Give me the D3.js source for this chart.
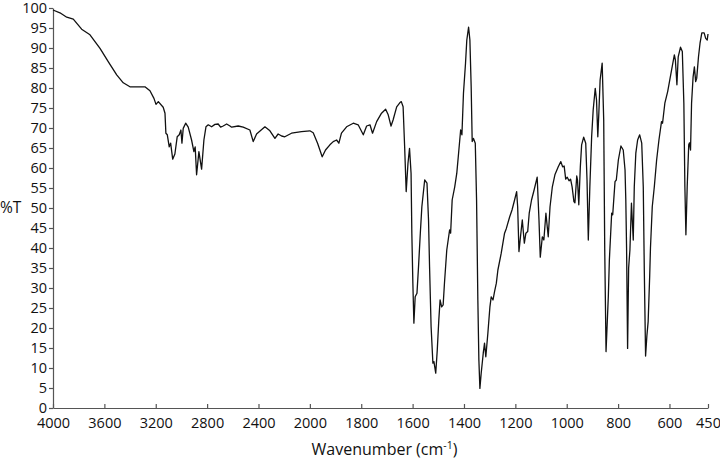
<!DOCTYPE html>
<html>
<head>
<meta charset="utf-8">
<script src="https://cdn.jsdelivr.net/npm/d3@7"></script>
<style>
  body { margin: 0; background: #fff; }
  svg text { font-family: "Open Sans", "Noto Sans", sans-serif; fill: #111; }
</style>
</head>
<body>
<div id="chart"></div>
<script>
const wavenumber = [
  4000, 3946, 3893, 3842, 3777, 3712, 3634, 3570, 3504, 3453, 3401, 3349, 3284, 3245, 3214, 3198,
  3180, 3142, 3128, 3121, 3110, 3095, 3084, 3068, 3051, 3033, 3017, 3004, 2996, 2986, 2967, 2947,
  2921, 2903, 2893, 2882, 2864, 2843, 2825, 2809, 2791, 2765, 2739, 2714, 2695, 2675, 2648, 2622,
  2609, 2558, 2519, 2467, 2441, 2415, 2350, 2311, 2272, 2247, 2220, 2195, 2143, 2065, 2000, 1987,
  1970, 1952, 1939, 1922, 1909, 1896, 1887, 1877, 1857, 1831, 1812, 1792, 1779, 1766, 1756, 1740,
  1721, 1705, 1695, 1684, 1676, 1662, 1650, 1644, 1637, 1631, 1625, 1618, 1612, 1606, 1603, 1599,
  1595, 1590, 1583, 1577, 1570, 1564, 1553, 1544, 1538, 1534, 1528, 1521, 1517, 1510, 1504, 1498,
  1493, 1487, 1481, 1476, 1467, 1456, 1452, 1446, 1436, 1428, 1421, 1413, 1408, 1402, 1394, 1389,
  1382, 1377, 1372, 1368, 1363, 1356, 1351, 1346, 1342, 1338, 1333, 1325, 1320, 1315, 1307, 1299,
  1294, 1287, 1281, 1274, 1268, 1255, 1242, 1235, 1222, 1213, 1203, 1195, 1191, 1186, 1180, 1173,
  1165, 1159, 1152, 1146, 1137, 1127, 1115, 1108, 1103, 1095, 1089, 1081, 1072, 1065, 1056, 1046,
  1033, 1023, 1016, 1010, 1004, 998, 991, 985, 979, 972, 968, 961, 958, 953, 947, 942,
  934, 926, 921, 916, 910, 903, 897, 889, 884, 879, 875, 870, 862, 856, 852, 847,
  838, 834, 825, 821, 812, 807, 799, 789, 780, 773, 770, 767, 763, 759, 754, 748,
  741, 737, 731, 724, 716, 708, 702, 698, 693, 688, 683, 677, 674, 667, 659, 650,
  641, 631, 627, 618, 607, 594, 581, 577, 571, 566, 557, 550, 544, 540, 536, 531,
  525, 522, 518, 514, 508, 503, 498, 494, 487, 481, 474, 465, 459, 453, 450
];

// transmittance (%T) at each wavenumber above
const transmittance = [
  99.5, 98.8, 97.7, 97.2, 94.7, 93.3, 89.9, 86.6, 83.3, 81.3, 80.3, 80.3, 80.3, 79.3, 77.4, 75.9,
  76.6, 75.2, 73.7, 68.7, 68.3, 65.3, 66.2, 62.2, 63.5, 67.8, 68.3, 69.5, 66.2, 69.9, 71.2, 70.2,
  67.0, 64.1, 65.3, 58.3, 64.1, 59.7, 67.0, 70.3, 70.8, 70.3, 70.9, 71.0, 70.2, 70.5, 71.0, 70.5,
  70.2, 70.5, 70.2, 69.5, 66.6, 68.5, 70.3, 69.3, 67.4, 68.5, 68.0, 67.8, 68.7, 69.1, 69.3, 68.8,
  66.2, 62.8, 64.5, 65.8, 66.6, 67.0, 66.2, 68.7, 70.3, 71.2, 70.8, 68.3, 70.5, 70.8, 68.7, 71.6,
  73.7, 74.7, 73.3, 70.5, 72.0, 75.3, 76.3, 76.6, 75.3, 65.3, 54.1, 61.2, 64.9, 58.7, 43.7, 31.2,
  21.2, 27.8, 28.7, 35.3, 43.7, 50.3, 57.0, 56.2, 47.0, 35.3, 20.3, 11.2, 11.6, 8.7, 14.5, 22.0,
  27.0, 25.3, 25.8, 31.2, 39.5, 44.5, 43.7, 52.0, 55.3, 58.7, 63.7, 69.5, 68.3, 78.7, 86.2, 92.0,
  95.2, 92.0, 80.3, 66.6, 67.4, 66.2, 52.0, 27.0, 12.0, 4.9, 8.7, 13.7, 16.2, 12.8, 18.7, 25.3,
  27.8, 27.0, 29.1, 31.2, 34.5, 38.7, 43.7, 44.9, 47.8, 49.5, 52.0, 54.1, 50.3, 39.1, 42.8, 47.0,
  41.2, 43.7, 44.1, 48.7, 52.0, 54.5, 57.7, 47.0, 37.7, 42.8, 42.0, 48.7, 42.8, 50.3, 55.3, 58.3,
  60.3, 61.6, 60.3, 60.5, 57.2, 57.7, 56.8, 57.2, 55.3, 51.6, 51.3, 58.0, 57.0, 50.8, 60.3, 65.8,
  67.7, 66.2, 57.0, 42.0, 55.3, 67.8, 74.5, 79.9, 77.0, 67.8, 73.7, 82.0, 86.2, 72.0, 39.5, 14.1,
  28.0, 37.0, 48.7, 48.3, 56.6, 57.0, 62.0, 65.5, 64.5, 59.5, 52.0, 40.0, 14.9, 35.0, 39.5, 51.2,
  42.0, 55.3, 63.7, 67.0, 68.3, 66.2, 55.3, 34.5, 13.0, 18.0, 21.6, 33.0, 40.0, 50.3, 55.3, 62.0,
  67.0, 71.6, 71.2, 76.2, 79.1, 83.7, 88.3, 87.0, 80.8, 87.8, 90.2, 89.1, 76.2, 55.3, 43.3, 55.3,
  65.8, 66.3, 64.5, 76.2, 82.8, 85.3, 81.6, 82.4, 87.8, 91.2, 93.8, 93.8, 92.4, 92.0, 93.5
];

const xTicks = [4000, 3600, 3200, 2800, 2400, 2000, 1800, 1600, 1400, 1200, 1000, 800, 600, 450];
const yTicks = d3.range(0, 101, 5);

const width = 720, height = 462;
const plot = {left: 53, right: 708, top: 8, bottom: 408};

const svg = d3.select("#chart").append("svg")
    .attr("width", width)
    .attr("height", height);

// the instrument compresses 4000-2000 to half scale, so the x scale has a break at 2000
const x = d3.scaleLinear()
    .domain([4000, 2000, 450])
    .range([plot.left, plot.left + (plot.right - plot.left) * 2000 / 5100, plot.right]);

const y = d3.scaleLinear()
    .domain([0, 100])
    .range([plot.bottom, plot.top]);

// y axis
svg.append("g")
    .attr("transform", "translate(" + plot.left + ",0)")
    .call(d3.axisLeft(y).tickValues(yTicks).tickSizeInner(4).tickSizeOuter(0).tickPadding(2))
    .call(g => g.selectAll("text").style("font-size", "14.5px"))
    .call(g => g.selectAll("path, line").attr("stroke", "#555").attr("stroke-width", 1.2));

// x axis, ticks point up into the plot
svg.append("g")
    .attr("transform", "translate(0," + plot.bottom + ")")
    .call(d3.axisBottom(x).tickValues(xTicks).tickFormat(d3.format("d")).tickSizeInner(-4).tickSizeOuter(0).tickPadding(10))
    .call(g => g.selectAll("text").style("font-size", "14.5px"))
    .call(g => g.selectAll("path, line").attr("stroke", "#555").attr("stroke-width", 1.2));

// spectrum
const points = wavenumber.map((w, i) => [w, transmittance[i]]);
const line = d3.line()
    .x(d => x(d[0]))
    .y(d => y(d[1]));

svg.append("path")
    .datum(points)
    .attr("fill", "none")
    .attr("stroke", "#111")
    .attr("stroke-width", 1.3)
    .attr("stroke-linejoin", "round")
    .attr("d", line);

// axis titles
svg.append("text")
    .attr("x", 0)
    .attr("y", 213)
    .style("font-size", "15.5px")
    .text("%T");

const xtitle = svg.append("text")
    .attr("x", (plot.left + plot.right) / 2 + 4)
    .attr("y", 455)
    .attr("text-anchor", "middle")
    .style("font-size", "16px");
xtitle.append("tspan").text("Wavenumber (cm");
xtitle.append("tspan").attr("dy", -6).style("font-size", "10.5px").text("-1");
xtitle.append("tspan").attr("dy", 6).text(")");
</script>
</body>
</html>
